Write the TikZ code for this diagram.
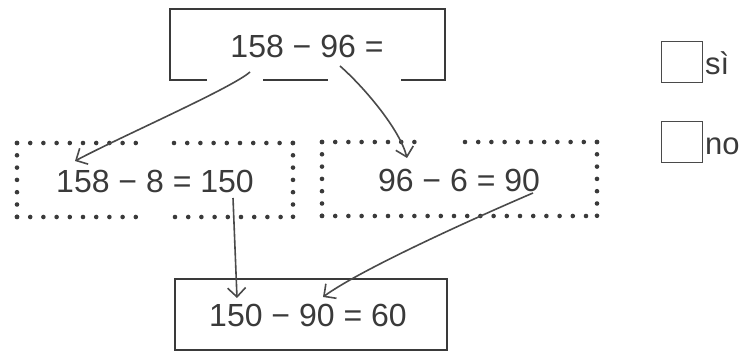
\documentclass[tikz,border=0pt]{standalone}
\usepackage{fontspec}
\setmainfont{Liberation Sans}
\usetikzlibrary{arrows.meta}

\definecolor{ink}{HTML}{3A3A3A}
\definecolor{pen}{HTML}{4A4A4A}

\begin{document}
\begin{tikzpicture}[x=1pt, y=-1pt,
  term/.style={font=\fontsize{32}{38}\selectfont, text=ink, inner sep=0pt, anchor=base},
  answer/.style={font=\fontsize{31}{36}\selectfont, text=ink, inner sep=0pt, anchor=base west},
  frame/.style={draw=ink, line width=1.5pt},
  dots/.style={draw=ink, line width=4.6pt, line cap=round, dash pattern=on 0pt off 13.2pt},
  vdots/.style={dots, dash pattern=on 0pt off 12.3pt},
  link/.style={draw=pen, line width=1.6pt, -{Straight Barb[length=9pt,width=18pt]}}]
  \useasboundingbox (0,0) rectangle (745,352);

  % Draw the task box, open below
  \draw[frame] (207,80) -- (170,80) -- (170,9) -- (445,9) -- (445,80) -- (401,80);
  \draw[frame] (263,80) -- (328,80);
  \node[term] (task) at (307,58) {158 − 96 =};

  % Draw the two dotted boxes
  \draw[dots] (17,143) -- (140,143);
  \draw[dots] (174,143) -- (293,143);
  \draw[dots] (17,217) -- (137,217);
  \draw[dots] (175,217) -- (293,217);
  \draw[vdots] (17,143) -- (17,217);
  \draw[vdots] (293,143) -- (293,217);
  \node[term] (left) at (155,193) {158 − 8 = 150};

  \draw[dots] (322,142) -- (416,142);
  \draw[dots] (465,142) -- (597,142);
  \draw[dots] (322,216) -- (597,216);
  \draw[vdots] (322,142) -- (322,216);
  \draw[vdots] (597,142) -- (597,216);
  \node[term] (right) at (459,192) {96 − 6 = 90};

  % Draw the result box
  \draw[frame] (175,279) rectangle (447,350);
  \node[term] (result) at (308,327) {150 − 90 = 60};

  % Ends of the arrows
  \coordinate (from158) at (250,72);
  \coordinate (from96) at (340,66);
  \coordinate (to158) at (75,161);
  \coordinate (to96) at (407,158);
  \coordinate (from150) at (233,198);
  \coordinate (from90) at (533,193);
  \coordinate (to150) at (237,298);
  \coordinate (to90) at (323,297);

  % Draw the arrows
  \draw[link] (from158) .. controls (232,88) and (120,137) .. (to158);
  \draw[link] (from96) .. controls (365,88) and (400,130) .. (to96);
  \draw[link] (from150) -- (to150);
  \draw[link] (from90) .. controls (470,220) and (360,270) .. (to90);

  % Tick boxes
  \foreach \y/\w [count=\i] in {42/sì,122/no} {
    \draw[draw=pen, line width=1pt] (661,\y) rectangle ++(41,41);
    \node[answer] (ans\i) at (705,\y+33) {\w};
  }
\end{tikzpicture}
\end{document}
